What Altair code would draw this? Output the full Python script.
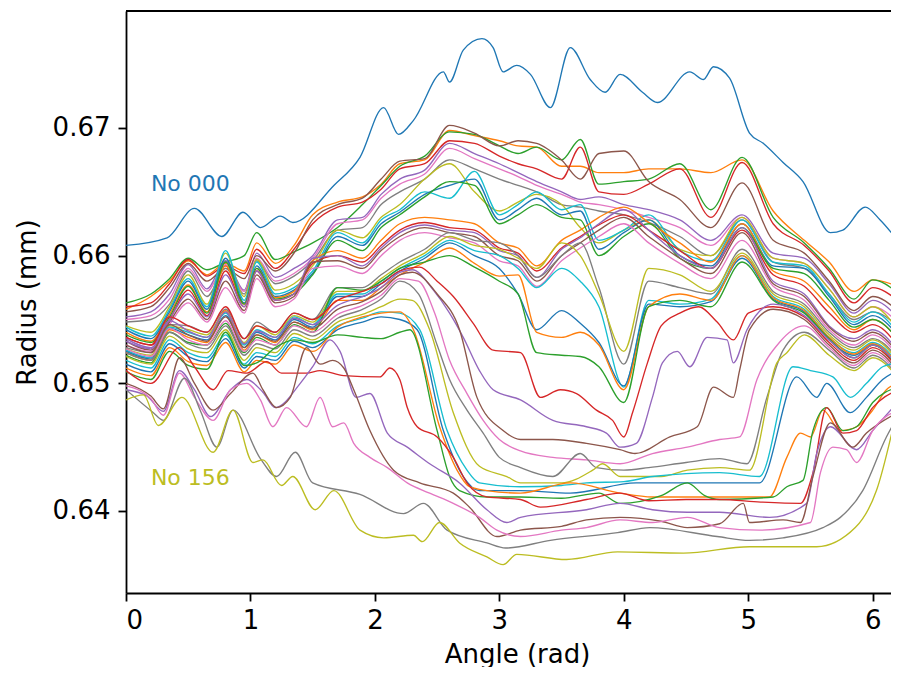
import altair as alt
import pandas as pd

TAB10 = ["#1f77b4", "#ff7f0e", "#2ca02c", "#d62728", "#9467bd",
         "#8c564b", "#e377c2", "#7f7f7f", "#bcbd22", "#17becf"]

# common angle grid used for the upper bundle of profiles
grid_x = [0, 0.2, 0.35, 0.5, 0.65, 0.8, 0.95, 1.05, 1.2, 1.35, 1.5, 1.7, 1.9, 2.05, 2.2,
          2.4, 2.6, 2.8, 3.0, 3.15, 3.3, 3.5, 3.65, 3.8, 4.0, 4.2, 4.45, 4.7, 4.95, 5.2,
          5.45, 5.65, 5.85, 6.0, 6.2]
left_x = grid_x[:15]

# profile No 000 (top)
p00_x = [0, 0.33, 0.55, 0.77, 0.94, 1.08, 1.24, 1.34, 1.67, 1.88, 2.07, 2.19, 2.31, 2.55, 2.60,
         2.71, 2.86, 2.95, 3.03, 3.14, 3.25, 3.41, 3.57, 3.73, 3.85, 3.97, 4.15, 4.27, 4.53,
         4.64, 4.72, 4.85, 5.01, 5.12, 5.28, 5.44, 5.66, 5.76, 5.94, 6.06, 6.2]
p00_y = [0.6608, 0.6614, 0.6637, 0.6615, 0.6634, 0.6622, 0.6631, 0.6626, 0.6655, 0.6677,
         0.6716, 0.6695, 0.6706, 0.6744, 0.6736, 0.6761, 0.6770, 0.6763, 0.6744, 0.6749,
         0.6742, 0.6716, 0.6763, 0.6738, 0.6728, 0.6742, 0.6728, 0.6720, 0.6744, 0.6738,
         0.6748, 0.6739, 0.6696, 0.6688, 0.6673, 0.6658, 0.6618, 0.6620, 0.6638, 0.6628, 0.6612]

# upper bundle profiles 1..22 on grid_x
p01_y = [0.6558, 0.6568, 0.6580, 0.6596, 0.6585, 0.6594, 0.6588, 0.6610, 0.6594, 0.6608, 0.6632, 0.6642, 0.6646, 0.6656, 0.6672, 0.6675, 0.6698, 0.6694, 0.6690, 0.6686, 0.6685, 0.6670, 0.6670, 0.6665, 0.6665, 0.6668, 0.6668, 0.6665, 0.6675, 0.6635, 0.6612, 0.6595, 0.6572, 0.6581, 0.6576]
p02_y = [0.6563, 0.6570, 0.6582, 0.6598, 0.6589, 0.6595, 0.6600, 0.6618, 0.6597, 0.6603, 0.6610, 0.6622, 0.6640, 0.6655, 0.6670, 0.6678, 0.6697, 0.6695, 0.6686, 0.6680, 0.6685, 0.6675, 0.6691, 0.6656, 0.6658, 0.6660, 0.6672, 0.6636, 0.6677, 0.6630, 0.6610, 0.6590, 0.6566, 0.6581, 0.6571]
p03_y = [0.6560, 0.6563, 0.6578, 0.6597, 0.6584, 0.6592, 0.6586, 0.6605, 0.6590, 0.6605, 0.6625, 0.6638, 0.6642, 0.6652, 0.6668, 0.6672, 0.6690, 0.6688, 0.6678, 0.6672, 0.6668, 0.6660, 0.6685, 0.6650, 0.6648, 0.6656, 0.6668, 0.6630, 0.6673, 0.6625, 0.6608, 0.6588, 0.6563, 0.6575, 0.6565]
p04_y = [0.6552, 0.6556, 0.6570, 0.6593, 0.6574, 0.6596, 0.6573, 0.6602, 0.6583, 0.6590, 0.6600, 0.6628, 0.6630, 0.6648, 0.6660, 0.6667, 0.6688, 0.6680, 0.6672, 0.6665, 0.6658, 0.6650, 0.6644, 0.6646, 0.6640, 0.6636, 0.6628, 0.6612, 0.6632, 0.6602, 0.6598, 0.6578, 0.6555, 0.6565, 0.6552]
p05_y = [0.6556, 0.6560, 0.6575, 0.6594, 0.6580, 0.6590, 0.6582, 0.6600, 0.6588, 0.6602, 0.6628, 0.6640, 0.6645, 0.6660, 0.6674, 0.6676, 0.6702, 0.6696, 0.6686, 0.6690, 0.6688, 0.6675, 0.6660, 0.6680, 0.6682, 0.6658, 0.6644, 0.6622, 0.6657, 0.6612, 0.6602, 0.6580, 0.6557, 0.6568, 0.6557]
p06_y = [0.6550, 0.6553, 0.6566, 0.6590, 0.6572, 0.6593, 0.6572, 0.6598, 0.6580, 0.6586, 0.6598, 0.6625, 0.6628, 0.6645, 0.6656, 0.6664, 0.6684, 0.6676, 0.6668, 0.6662, 0.6655, 0.6648, 0.6642, 0.6640, 0.6636, 0.6630, 0.6622, 0.6608, 0.6630, 0.6598, 0.6594, 0.6574, 0.6552, 0.6560, 0.6548]
p07_y = [0.6548, 0.6550, 0.6562, 0.6588, 0.6568, 0.6590, 0.6570, 0.6596, 0.6578, 0.6584, 0.6596, 0.6620, 0.6622, 0.6640, 0.6650, 0.6660, 0.6675, 0.6668, 0.6660, 0.6655, 0.6650, 0.6640, 0.6638, 0.6635, 0.6632, 0.6626, 0.6615, 0.6600, 0.6628, 0.6595, 0.6590, 0.6570, 0.6550, 0.6556, 0.6545]
p08_y = [0.6545, 0.6540, 0.6560, 0.6585, 0.6562, 0.6602, 0.6568, 0.6597, 0.6573, 0.6578, 0.6592, 0.6620, 0.6614, 0.6630, 0.6640, 0.6660, 0.6672, 0.6650, 0.6635, 0.6642, 0.6648, 0.6640, 0.6622, 0.6610, 0.6620, 0.6628, 0.6605, 0.6600, 0.6630, 0.6598, 0.6594, 0.6574, 0.6552, 0.6560, 0.6542]
p09_y = [0.6544, 0.6537, 0.6558, 0.6582, 0.6560, 0.6604, 0.6565, 0.6595, 0.6570, 0.6575, 0.6588, 0.6618, 0.6610, 0.6628, 0.6636, 0.6650, 0.6645, 0.6666, 0.6632, 0.6640, 0.6650, 0.6636, 0.6640, 0.6612, 0.6620, 0.6632, 0.6604, 0.6596, 0.6628, 0.6595, 0.6592, 0.6570, 0.6548, 0.6556, 0.6540]
p10_y = [0.6542, 0.6535, 0.6556, 0.6580, 0.6558, 0.6598, 0.6563, 0.6592, 0.6568, 0.6573, 0.6586, 0.6615, 0.6608, 0.6625, 0.6634, 0.6648, 0.6655, 0.6660, 0.6628, 0.6636, 0.6645, 0.6632, 0.6635, 0.6605, 0.6618, 0.6628, 0.6600, 0.6592, 0.6625, 0.6592, 0.6590, 0.6568, 0.6546, 0.6553, 0.6538]
p11_y = [0.6540, 0.6533, 0.6554, 0.6577, 0.6556, 0.6592, 0.6562, 0.6590, 0.6567, 0.6572, 0.6596, 0.6604, 0.6598, 0.6612, 0.6625, 0.6630, 0.6628, 0.6625, 0.6610, 0.6606, 0.6592, 0.6612, 0.6620, 0.6630, 0.6638, 0.6626, 0.6610, 0.6595, 0.6625, 0.6588, 0.6580, 0.6560, 0.6542, 0.6550, 0.6535]
p12_y = [0.6538, 0.6532, 0.6552, 0.6576, 0.6555, 0.6595, 0.6562, 0.6590, 0.6566, 0.6570, 0.6585, 0.6612, 0.6604, 0.6622, 0.6632, 0.6646, 0.6658, 0.6655, 0.6625, 0.6632, 0.6640, 0.6630, 0.6628, 0.6600, 0.6615, 0.6625, 0.6598, 0.6590, 0.6622, 0.6590, 0.6586, 0.6565, 0.6544, 0.6550, 0.6535]
p13_y = [0.6536, 0.6530, 0.6550, 0.6573, 0.6553, 0.6588, 0.6560, 0.6588, 0.6565, 0.6570, 0.6594, 0.6600, 0.6595, 0.6608, 0.6620, 0.6626, 0.6622, 0.6620, 0.6606, 0.6602, 0.6588, 0.6606, 0.6615, 0.6624, 0.6632, 0.6620, 0.6604, 0.6590, 0.6620, 0.6585, 0.6576, 0.6555, 0.6540, 0.6546, 0.6530]
p14_y = [0.6535, 0.6528, 0.6550, 0.6570, 0.6552, 0.6585, 0.6560, 0.6588, 0.6565, 0.6570, 0.6598, 0.6600, 0.6592, 0.6606, 0.6618, 0.6624, 0.6620, 0.6618, 0.6604, 0.6600, 0.6583, 0.6605, 0.6614, 0.6625, 0.6636, 0.6620, 0.6600, 0.6590, 0.6622, 0.6580, 0.6570, 0.6545, 0.6535, 0.6542, 0.6526]
p15_y = [0.6533, 0.6526, 0.6548, 0.6566, 0.6550, 0.6580, 0.6557, 0.6585, 0.6563, 0.6568, 0.6595, 0.6596, 0.6590, 0.6604, 0.6615, 0.6622, 0.6618, 0.6615, 0.6600, 0.6596, 0.6580, 0.6600, 0.6610, 0.6620, 0.6630, 0.6615, 0.6598, 0.6586, 0.6618, 0.6578, 0.6568, 0.6544, 0.6533, 0.6540, 0.6524]
p16_y = [0.6530, 0.6525, 0.6546, 0.6563, 0.6548, 0.6575, 0.6555, 0.6582, 0.6560, 0.6566, 0.6590, 0.6592, 0.6586, 0.6600, 0.6612, 0.6618, 0.6614, 0.6610, 0.6596, 0.6592, 0.6576, 0.6596, 0.6606, 0.6615, 0.6625, 0.6610, 0.6594, 0.6582, 0.6612, 0.6576, 0.6565, 0.6542, 0.6530, 0.6538, 0.6522]
p17_y = [0.6528, 0.6524, 0.6546, 0.6545, 0.6540, 0.6558, 0.6535, 0.6548, 0.6540, 0.6555, 0.6550, 0.6575, 0.6575, 0.6585, 0.6595, 0.6605, 0.6618, 0.6612, 0.6610, 0.6600, 0.6583, 0.6600, 0.6610, 0.6575, 0.6515, 0.6580, 0.6575, 0.6570, 0.6605, 0.6572, 0.6562, 0.6540, 0.6528, 0.6535, 0.6520]
p18_y = [0.6527, 0.6522, 0.6545, 0.6542, 0.6538, 0.6556, 0.6532, 0.6545, 0.6538, 0.6553, 0.6548, 0.6572, 0.6572, 0.6582, 0.6592, 0.6602, 0.6615, 0.6608, 0.6605, 0.6598, 0.6590, 0.6610, 0.6600, 0.6570, 0.6525, 0.6590, 0.6585, 0.6572, 0.6602, 0.6570, 0.6560, 0.6538, 0.6526, 0.6534, 0.6518]
p19_y = [0.6526, 0.6520, 0.6544, 0.6540, 0.6536, 0.6555, 0.6530, 0.6542, 0.6536, 0.6552, 0.6546, 0.6570, 0.6570, 0.6580, 0.6590, 0.6600, 0.6612, 0.6604, 0.6600, 0.6590, 0.6575, 0.6590, 0.6580, 0.6560, 0.6497, 0.6565, 0.6562, 0.6566, 0.6600, 0.6568, 0.6558, 0.6536, 0.6524, 0.6532, 0.6516]
p20_y = [0.6525, 0.6519, 0.6543, 0.6538, 0.6534, 0.6553, 0.6528, 0.6540, 0.6534, 0.6550, 0.6544, 0.6568, 0.6568, 0.6578, 0.6588, 0.6598, 0.6610, 0.6600, 0.6590, 0.6570, 0.6542, 0.6557, 0.6547, 0.6532, 0.6498, 0.6562, 0.6560, 0.6564, 0.6598, 0.6566, 0.6556, 0.6534, 0.6522, 0.6530, 0.6514]
p21_y = [0.6524, 0.6518, 0.6542, 0.6536, 0.6532, 0.6557, 0.6526, 0.6538, 0.6532, 0.6548, 0.6542, 0.6565, 0.6565, 0.6575, 0.6585, 0.6595, 0.6606, 0.6594, 0.6584, 0.6585, 0.6540, 0.6536, 0.6540, 0.6530, 0.6495, 0.6560, 0.6570, 0.6565, 0.6600, 0.6567, 0.6557, 0.6536, 0.6523, 0.6531, 0.6515]
p22_y = [0.6522, 0.6516, 0.6540, 0.6532, 0.6530, 0.6547, 0.6524, 0.6536, 0.6530, 0.6546, 0.6540, 0.6575, 0.6573, 0.6580, 0.6590, 0.6595, 0.6600, 0.6591, 0.6580, 0.6570, 0.6524, 0.6522, 0.6521, 0.6513, 0.6485, 0.6560, 0.6565, 0.6560, 0.6595, 0.6565, 0.6555, 0.6535, 0.6520, 0.6530, 0.6512]

# profiles 23..32: left part on left_x, then their own points
p23_ly = [0.6536, 0.6530, 0.6552, 0.6545, 0.6540, 0.6560, 0.6535, 0.6545, 0.6540, 0.6555, 0.6550, 0.6565, 0.6572, 0.6578, 0.6588]
p23_tx = [2.36, 2.5, 2.63, 2.79, 2.95, 3.17, 3.33, 3.49, 3.62, 3.78, 3.91, 4.0, 4.07, 4.19, 4.3, 4.45, 4.6, 4.75, 4.88, 5.0, 5.2, 5.45, 5.65, 5.85, 6.0, 6.2]
p23_ty = [0.6591, 0.6580, 0.6568, 0.6547, 0.6526, 0.6524, 0.6489, 0.6495, 0.6492, 0.6479, 0.6471, 0.6458, 0.6477, 0.6516, 0.6545, 0.6555, 0.6560, 0.6548, 0.6534, 0.6555, 0.6560, 0.6552, 0.6532, 0.6518, 0.6528, 0.6512]

p24_ly = [0.6533, 0.6527, 0.6549, 0.6541, 0.6536, 0.6556, 0.6531, 0.6541, 0.6536, 0.6551, 0.6546, 0.6561, 0.6568, 0.6575, 0.6587]
p24_tx = [2.3, 2.47, 2.6, 2.71, 2.84, 2.95, 3.17, 3.43, 3.70, 3.86, 3.97, 4.1, 4.23, 4.31, 4.43, 4.53, 4.67, 4.83, 4.88, 4.99, 5.2, 5.45, 5.65, 5.85, 6.0, 6.2]
p24_ty = [0.6589, 0.6573, 0.6555, 0.6536, 0.6510, 0.6495, 0.6487, 0.6471, 0.6466, 0.6461, 0.6450, 0.6453, 0.6489, 0.6516, 0.6525, 0.6513, 0.6536, 0.6534, 0.6516, 0.6542, 0.6562, 0.6553, 0.6534, 0.6520, 0.6530, 0.6514]

p25_ly = [0.6530, 0.6524, 0.6546, 0.6538, 0.6533, 0.6552, 0.6528, 0.6538, 0.6533, 0.6548, 0.6543, 0.6558, 0.6564, 0.6572, 0.6585]
p25_tx = [2.3, 2.5, 2.68, 2.82, 3.03, 3.17, 3.43, 3.7, 3.97, 4.09, 4.37, 4.59, 4.72, 4.88, 4.93, 5.01, 5.2, 5.45, 5.65, 5.85, 6.0, 6.2]
p25_ty = [0.6587, 0.6570, 0.6542, 0.6489, 0.6463, 0.6456, 0.6456, 0.6453, 0.6448, 0.6445, 0.6458, 0.6466, 0.6497, 0.6489, 0.6510, 0.6542, 0.6558, 0.6550, 0.6530, 0.6516, 0.6526, 0.6510]

p26_ly = [0.6527, 0.6521, 0.6543, 0.6534, 0.6530, 0.6549, 0.6525, 0.6534, 0.6530, 0.6545, 0.6540, 0.6554, 0.6561, 0.6569, 0.6582]
p26_tx = [2.35, 2.48, 2.6, 2.74, 2.87, 3.0, 3.17, 3.43, 3.7, 3.97, 4.23, 4.51, 4.77, 4.93, 5.07, 5.25, 5.45, 5.65, 5.85, 6.0, 6.2]
p26_ty = [0.6580, 0.6555, 0.6518, 0.6492, 0.6471, 0.6456, 0.6447, 0.6442, 0.6440, 0.6437, 0.6445, 0.6450, 0.6456, 0.6458, 0.6503, 0.6532, 0.6545, 0.6528, 0.6514, 0.6524, 0.6508]

p27_ly = [0.6524, 0.6518, 0.6540, 0.6531, 0.6527, 0.6545, 0.6522, 0.6531, 0.6527, 0.6542, 0.6537, 0.6551, 0.6558, 0.6566, 0.6580]
p27_tx = [2.35, 2.5, 2.6, 2.74, 2.87, 3.0, 3.17, 3.43, 3.65, 3.78, 4.0, 4.2, 4.5, 4.77, 4.99, 5.15, 5.28, 5.45, 5.65, 5.85, 6.0, 6.2]
p27_ty = [0.6570, 0.6530, 0.6503, 0.6479, 0.6461, 0.6442, 0.6434, 0.6427, 0.6445, 0.6434, 0.6432, 0.6434, 0.6438, 0.6441, 0.6437, 0.6489, 0.6526, 0.6540, 0.6526, 0.6512, 0.6522, 0.6506]

p28_ly = [0.6521, 0.6515, 0.6537, 0.6527, 0.6524, 0.6542, 0.6518, 0.6528, 0.6524, 0.6539, 0.6534, 0.6548, 0.6554, 0.6560, 0.6566]
p28_tx = [2.3, 2.44, 2.63, 2.84, 3.06, 3.17, 3.5, 3.75, 3.83, 3.97, 4.3, 4.51, 4.77, 5.01, 5.23, 5.31, 5.45, 5.65, 5.85, 6.0, 6.2]
p28_ty = [0.6565, 0.6542, 0.6477, 0.6435, 0.6427, 0.6422, 0.6422, 0.6432, 0.6437, 0.6427, 0.6427, 0.6432, 0.6434, 0.6432, 0.6516, 0.6524, 0.6538, 0.6522, 0.6510, 0.6520, 0.6505]

p29_ly = [0.6518, 0.6512, 0.6534, 0.6524, 0.6520, 0.6538, 0.6515, 0.6524, 0.6521, 0.6536, 0.6531, 0.6545, 0.6551, 0.6556, 0.6555]
p29_tx = [2.36, 2.58, 2.74, 2.84, 3.17, 3.5, 3.7, 4.0, 4.23, 4.77, 5.09, 5.36, 5.50, 5.68, 5.82, 5.95, 6.08, 6.2]
p29_ty = [0.6542, 0.6463, 0.6432, 0.6422, 0.6419, 0.6420, 0.6422, 0.6423, 0.6427, 0.6430, 0.6427, 0.6513, 0.6510, 0.6505, 0.6489, 0.6500, 0.6513, 0.6516]

p30_ly = [0.6515, 0.6509, 0.6531, 0.6521, 0.6517, 0.6535, 0.6512, 0.6521, 0.6518, 0.6533, 0.6528, 0.6542, 0.6548, 0.6552, 0.6550]
p30_tx = [2.34, 2.55, 2.71, 2.84, 3.17, 3.57, 4.1, 4.6, 5.09, 5.39, 5.55, 5.63, 5.82, 5.95, 6.08, 6.2]
p30_ty = [0.6542, 0.6463, 0.6427, 0.6416, 0.6416, 0.6414, 0.6422, 0.6422, 0.6422, 0.6505, 0.6489, 0.6500, 0.6477, 0.6489, 0.6503, 0.6510]

p31_ly = [0.6512, 0.6506, 0.6528, 0.6517, 0.6514, 0.6532, 0.6509, 0.6518, 0.6515, 0.6530, 0.6525, 0.6544, 0.6552, 0.6555, 0.6556]
p31_tx = [2.31, 2.52, 2.66, 2.76, 2.9, 3.17, 3.57, 3.97, 4.23, 4.77, 5.17, 5.31, 5.42, 5.50, 5.60, 5.74, 5.87, 6.0, 6.11, 6.2]
p31_ty = [0.6542, 0.6466, 0.6432, 0.6419, 0.6416, 0.6414, 0.6422, 0.6414, 0.6411, 0.6411, 0.6411, 0.6442, 0.6461, 0.6458, 0.6479, 0.6463, 0.6466, 0.6479, 0.6495, 0.6500]

p32_ly = [0.6509, 0.6503, 0.6525, 0.6514, 0.6511, 0.6540, 0.6514, 0.6516, 0.6528, 0.6534, 0.6532, 0.6538, 0.6536, 0.6535, 0.6540]
p32_tx = [2.28, 2.5, 2.6, 2.68, 2.9, 3.17, 3.5, 3.8, 3.97, 4.3, 4.51, 4.65, 4.77, 5.2, 5.31, 5.44, 5.52, 5.63, 5.76, 5.87, 6.0, 6.2]
p32_ty = [0.6542, 0.6463, 0.6427, 0.6416, 0.6411, 0.6411, 0.6410, 0.6414, 0.6406, 0.6412, 0.6422, 0.6412, 0.6409, 0.6411, 0.6419, 0.6424, 0.6463, 0.6481, 0.6463, 0.6466, 0.6485, 0.6497]

# lower profiles 33..38
p33_x = [0, 0.2, 0.43, 0.55, 0.70, 0.82, 0.97, 1.13, 1.25, 1.45, 1.56, 1.75, 2.04, 2.12, 2.2, 2.26, 2.34, 2.5, 2.63, 2.74, 2.9, 3.17, 3.33, 3.7, 3.97, 4.2, 4.5, 4.77, 5.1, 5.42, 5.52, 5.63, 5.76, 5.87, 6.0, 6.2]
p33_y = [0.6510, 0.6500, 0.6528, 0.6513, 0.6495, 0.6510, 0.6508, 0.6517, 0.6508, 0.6508, 0.6510, 0.6506, 0.6505, 0.6512, 0.6503, 0.6481, 0.6466, 0.6458, 0.6442, 0.6422, 0.6411, 0.6409, 0.6403, 0.6409, 0.6414, 0.6408, 0.6409, 0.6409, 0.6407, 0.6406, 0.6430, 0.6481, 0.6461, 0.6463, 0.6481, 0.6495]
p34_x = [0, 0.17, 0.3, 0.43, 0.55, 0.68, 0.84, 0.97, 1.1, 1.2, 1.4, 1.5, 1.64, 1.72, 1.85, 1.96, 2.10, 2.26, 2.44, 2.68, 2.90, 3.06, 3.17, 3.7, 3.97, 4.23, 4.51, 4.77, 5.17, 5.47, 5.55, 5.66, 5.87, 6.0, 6.2]
p34_y = [0.6495, 0.6490, 0.6478, 0.6510, 0.6495, 0.6474, 0.6495, 0.6503, 0.6493, 0.6481, 0.6500, 0.6513, 0.6534, 0.6525, 0.6489, 0.6492, 0.6461, 0.6450, 0.6437, 0.6422, 0.6401, 0.6391, 0.6395, 0.6401, 0.6406, 0.6401, 0.6399, 0.6399, 0.6395, 0.6406, 0.6445, 0.6466, 0.6448, 0.6463, 0.6485]
p35_x = [0, 0.2, 0.3, 0.43, 0.55, 0.70, 0.84, 1.02, 1.1, 1.21, 1.32, 1.45, 1.56, 1.66, 1.75, 1.83, 1.96, 2.15, 2.36, 2.63, 2.76, 2.98, 3.17, 3.5, 3.7, 3.97, 4.3, 4.51, 4.77, 4.96, 5.01, 5.28, 5.42, 5.52, 5.66, 5.84, 5.95, 6.2]
p35_y = [0.6500, 0.6490, 0.6480, 0.6520, 0.6500, 0.6479, 0.6492, 0.6508, 0.6495, 0.6481, 0.6489, 0.6528, 0.6515, 0.6518, 0.6512, 0.6495, 0.6463, 0.6432, 0.6422, 0.6414, 0.6403, 0.6380, 0.6385, 0.6388, 0.6393, 0.6395, 0.6392, 0.6387, 0.6390, 0.6406, 0.6391, 0.6393, 0.6391, 0.6427, 0.6469, 0.6450, 0.6461, 0.6477]
p36_x = [0, 0.2, 0.3, 0.43, 0.55, 0.70, 0.84, 0.97, 1.08, 1.18, 1.29, 1.45, 1.56, 1.66, 1.75, 1.83, 1.96, 2.10, 2.26, 2.44, 2.63, 2.84, 2.98, 3.17, 3.5, 3.7, 3.97, 4.23, 4.51, 4.77, 5.09, 5.50, 5.58, 5.68, 5.79, 5.87, 6.0, 6.2]
p36_y = [0.6498, 0.6488, 0.6475, 0.6508, 0.6489, 0.6471, 0.6495, 0.6500, 0.6487, 0.6466, 0.6481, 0.6466, 0.6489, 0.6466, 0.6469, 0.6453, 0.6442, 0.6434, 0.6422, 0.6414, 0.6406, 0.6395, 0.6385, 0.6380, 0.6385, 0.6387, 0.6393, 0.6391, 0.6395, 0.6387, 0.6385, 0.6391, 0.6430, 0.6450, 0.6448, 0.6438, 0.6463, 0.6479]
p37_x = [0, 0.22, 0.30, 0.47, 0.6, 0.73, 0.86, 1.08, 1.21, 1.36, 1.50, 1.88, 2.23, 2.39, 2.58, 2.90, 3.05, 3.41, 3.95, 4.21, 4.75, 5.01, 5.28, 5.60, 5.74, 5.92, 6.11, 6.2]
p37_y = [0.6495, 0.6477, 0.6471, 0.6504, 0.6478, 0.6450, 0.6479, 0.6441, 0.6427, 0.6446, 0.6422, 0.6413, 0.6398, 0.6406, 0.6385, 0.6375, 0.6371, 0.6377, 0.6383, 0.6387, 0.6380, 0.6377, 0.6379, 0.6387, 0.6395, 0.6416, 0.6458, 0.6474]
p38_x = [0, 0.14, 0.26, 0.45, 0.70, 0.86, 1.02, 1.10, 1.25, 1.34, 1.52, 1.67, 1.88, 2.07, 2.31, 2.38, 2.52, 2.68, 2.90, 3.03, 3.14, 3.54, 3.95, 4.48, 5.01, 5.55, 5.86, 6.03, 6.2]
p38_y = [0.6487, 0.6491, 0.6467, 0.6489, 0.6446, 0.6479, 0.6438, 0.6440, 0.6420, 0.6427, 0.6401, 0.6416, 0.6385, 0.6379, 0.6381, 0.6376, 0.6391, 0.6375, 0.6364, 0.6358, 0.6366, 0.6362, 0.6368, 0.6367, 0.6372, 0.6372, 0.6387, 0.6416, 0.6481]

label_text = ["No 000", "No 156"]
label_x = [0.2, 0.2]
label_y = [0.66507, 0.64204]

profiles = [(p00_x, p00_y)]
for ys in [p01_y, p02_y, p03_y, p04_y, p05_y, p06_y, p07_y, p08_y, p09_y, p10_y, p11_y,
           p12_y, p13_y, p14_y, p15_y, p16_y, p17_y, p18_y, p19_y, p20_y, p21_y, p22_y]:
    profiles.append((grid_x, ys))
for ly, tx, ty in [(p23_ly, p23_tx, p23_ty), (p24_ly, p24_tx, p24_ty), (p25_ly, p25_tx, p25_ty),
                   (p26_ly, p26_tx, p26_ty), (p27_ly, p27_tx, p27_ty), (p28_ly, p28_tx, p28_ty),
                   (p29_ly, p29_tx, p29_ty), (p30_ly, p30_tx, p30_ty), (p31_ly, p31_tx, p31_ty),
                   (p32_ly, p32_tx, p32_ty)]:
    profiles.append((left_x + tx, ly + ty))
for xs, ys in [(p33_x, p33_y), (p34_x, p34_y), (p35_x, p35_y), (p36_x, p36_y),
               (p37_x, p37_y), (p38_x, p38_y)]:
    profiles.append((xs, ys))

rows = []
ids = []
cols = []
for i, (xs, ys) in enumerate(profiles):
    assert len(xs) == len(ys), (i, len(xs), len(ys))
    sid = "P%02d" % i
    ids.append(sid)
    cols.append(TAB10[i % 10])
    for k, (a, b) in enumerate(zip(xs, ys)):
        rows.append({"angle": a, "radius": b, "sid": sid, "k": k})
df = pd.DataFrame(rows)

W, H = 765, 582
XDOM = [0, 6.147]
YDOM = [0.633577, 0.679164]

xscale = alt.Scale(domain=XDOM, nice=False, zero=False)
yscale = alt.Scale(domain=YDOM, nice=False, zero=False)

lines = alt.Chart(df).mark_line(strokeWidth=1.35, clip=True, interpolate="monotone").encode(
    x=alt.X("angle:Q", scale=xscale,
            axis=alt.Axis(title="Angle (rad)", values=[0, 1, 2, 3, 4, 5, 6], format="d",
                          titleX=391, labelPadding=6, titlePadding=8)),
    y=alt.Y("radius:Q", scale=yscale,
            axis=alt.Axis(title="Radius (mm)", values=[0.64, 0.65, 0.66, 0.67], format=".2f",
                          labelPadding=8, titlePadding=12)),
    color=alt.Color("sid:N", scale=alt.Scale(domain=ids, range=cols), legend=None),
    order="k:Q",
)

lab_df = pd.DataFrame({"angle": label_x, "radius": label_y, "text": label_text})
labels = alt.Chart(lab_df).mark_text(align="left", baseline="alphabetic", fontSize=22,
                                     font="DejaVu Sans").encode(
    x=alt.X("angle:Q", scale=xscale),
    y=alt.Y("radius:Q", scale=yscale),
    text="text:N",
    color=alt.Color("text:N", scale=alt.Scale(domain=label_text, range=[TAB10[0], TAB10[8]]),
                    legend=None),
)

top_spine = alt.Chart(lab_df).mark_rule(color="black", strokeWidth=1.8).encode(
    x=alt.value(0), x2=alt.value(W), y=alt.value(0))

chart = alt.layer(lines, labels, top_spine).resolve_scale(color="independent").properties(
    width=W, height=H,
    autosize=alt.AutoSizeParams(type="none"),
    padding={"left": 118, "top": 3, "right": 0, "bottom": 74},
).configure_view(stroke=None).configure_axis(
    grid=False, domainColor="black", domainWidth=1.8, tickColor="black", tickWidth=1.8,
    tickSize=8, labelFont="DejaVu Sans", labelFontSize=26, labelColor="black",
    titleFont="DejaVu Sans", titleFontSize=26, titleFontWeight="normal", titleColor="black",
)

chart.save("out.html", embed_options={"renderer": "svg", "actions": False})
